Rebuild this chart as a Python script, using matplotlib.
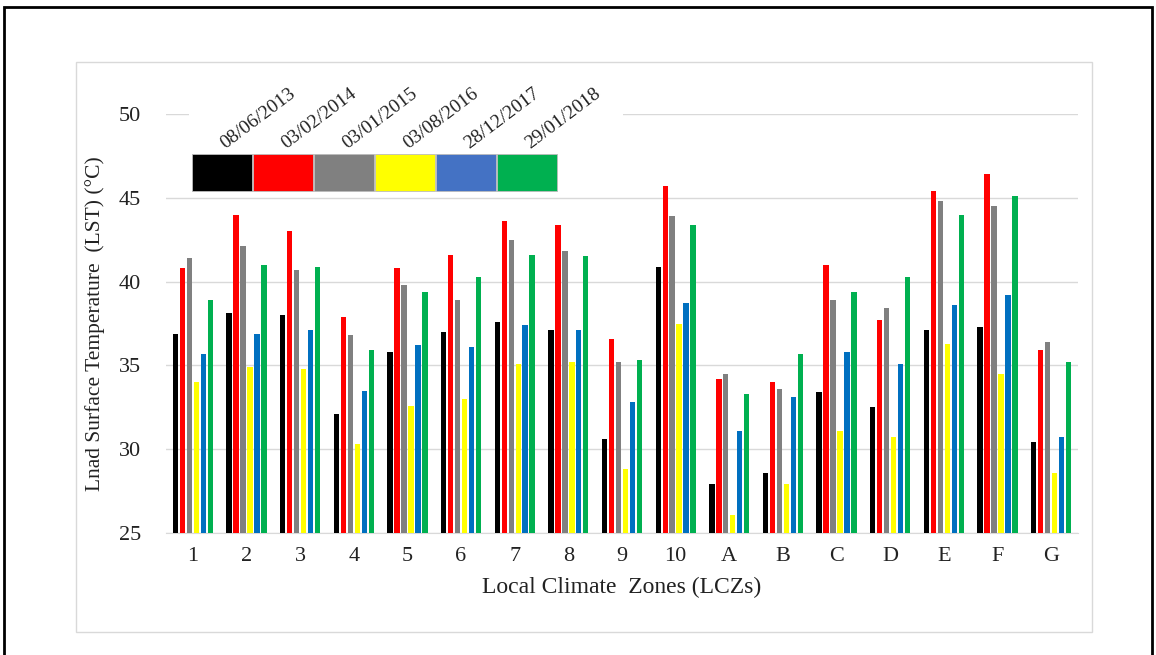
import numpy as np
import matplotlib
matplotlib.use("Agg")
import matplotlib.pyplot as plt
from matplotlib.patches import Rectangle

plt.rcParams["font.family"] = ["Liberation Serif", "DejaVu Serif"]

# LST per local climate zone, one list per acquisition date
zones = ["1", "2", "3", "4", "5", "6", "7", "8", "9", "10",
         "A", "B", "C", "D", "E", "F", "G"]
dates = ["08/06/2013", "03/02/2014", "03/01/2015",
         "03/08/2016", "28/12/2017", "29/01/2018"]
lst_2013 = [36.9, 38.1, 38.0, 32.1, 35.8, 37.0, 37.6, 37.1, 30.6, 40.9,
            27.9, 28.6, 33.4, 32.5, 37.1, 37.3, 30.4]
lst_2014 = [40.8, 44.0, 43.0, 37.9, 40.8, 41.6, 43.6, 43.4, 36.6, 45.7,
            34.2, 34.0, 41.0, 37.7, 45.4, 46.4, 35.9]
lst_2015 = [41.4, 42.1, 40.7, 36.8, 39.8, 38.9, 42.5, 41.8, 35.2, 43.9,
            34.5, 33.6, 38.9, 38.4, 44.8, 44.5, 36.4]
lst_2016 = [34.0, 34.9, 34.8, 30.3, 32.6, 33.0, 35.1, 35.2, 28.8, 37.5,
            26.1, 27.9, 31.1, 30.7, 36.3, 34.5, 28.6]
lst_dec2017 = [35.7, 36.9, 37.1, 33.5, 36.2, 36.1, 37.4, 37.1, 32.8, 38.7,
               31.1, 33.1, 35.8, 35.1, 38.6, 39.2, 30.7]
lst_2018 = [38.9, 41.0, 40.9, 35.9, 39.4, 40.3, 41.6, 41.5, 35.3, 43.4,
            33.3, 35.7, 39.4, 40.3, 44.0, 45.1, 35.2]

series = [lst_2013, lst_2014, lst_2015, lst_2016, lst_dec2017, lst_2018]
bar_colors = ["#000000", "#ff0000", "#808080", "#ffff00", "#0070c0", "#00b050"]
swatch_colors = ["#000000", "#ff0000", "#808080", "#ffff00", "#4472c4", "#00b050"]

W, H = 1156, 655
fig = plt.figure(figsize=(W / 100, H / 100), dpi=100)

# page frame and chart-area box
fig.patches.append(Rectangle((4 / W, -0.05), 1148 / W, 1.05 - 7 / H,
                             transform=fig.transFigure, fill=False,
                             edgecolor="black", linewidth=2))
fig.patches.append(Rectangle((76 / W, 1 - 632 / H), 1016 / W, 570 / H,
                             transform=fig.transFigure, fill=False,
                             edgecolor="#d9d9d9", linewidth=1))

ax = fig.add_axes([166 / W, 1 - 533 / H, 912 / W, 419 / H])

x = np.arange(len(zones))
slot = 0.13
for i, (vals, c) in enumerate(zip(series, bar_colors)):
    ax.bar(x + (i - 2.5) * slot, np.array(vals) - 25, bottom=25,
           width=0.1, color=c, zorder=3)

ax.set_xlim(-0.5, len(zones) - 0.5)
ax.set_ylim(25, 50)
ax.set_yticks([25, 30, 35, 40, 45, 50])
ax.set_xticks(x)
ax.set_xticklabels(zones)
ax.tick_params(length=0, labelsize=16, colors="#222222")
ax.tick_params(axis="x", pad=10)
ax.tick_params(axis="y", pad=18)
ax.grid(axis="y", color="#d9d9d9", linewidth=1, zorder=0)
for side in ["top", "right", "left"]:
    ax.spines[side].set_visible(False)
ax.spines["bottom"].set_color("#d9d9d9")
ax.set_xlabel("Local Climate  Zones (LCZs)", fontsize=17, labelpad=8,
              color="#222222")
ax.set_ylabel("Lnad Surface Temperature  (LST) (°C)", fontsize=15.5,
              labelpad=10, color="#222222")


def to_ax(px, py):
    return (px - 166) / 912, (533 - py) / 419


# legend: colour swatches with slanted date labels on a white backing
bx, by = to_ax(189, 196)
bx2, by2 = to_ax(623, 70)
ax.add_patch(Rectangle((bx, by), bx2 - bx, by2 - by, transform=ax.transAxes,
                       facecolor="white", edgecolor="none", zorder=4,
                       clip_on=False))
sw = 61
for i, (label, c) in enumerate(zip(dates, swatch_colors)):
    left = 192 + i * sw
    sx, sy = to_ax(left, 191)
    sx2, sy2 = to_ax(left + sw - 1, 154)
    ax.add_patch(Rectangle((sx, sy), sx2 - sx, sy2 - sy, transform=ax.transAxes,
                           facecolor=c, edgecolor="#bbbbbb", linewidth=0.6,
                           zorder=5, clip_on=False))
    tx, ty = to_ax(left + 36, 152)
    ax.text(tx, ty, label, transform=ax.transAxes, rotation=37,
            rotation_mode="anchor", ha="left", va="bottom", fontsize=14,
            color="#222222", zorder=6)

fig.savefig("out.png", dpi=100)
